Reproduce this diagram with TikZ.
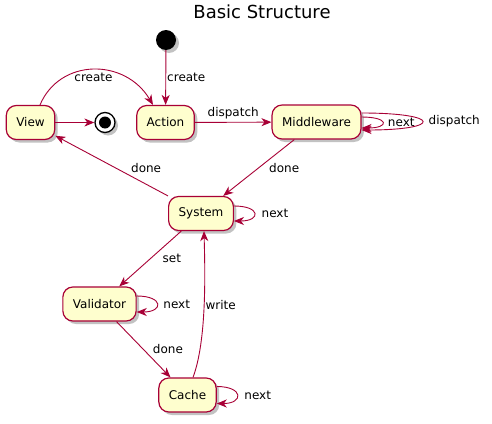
\documentclass[tikz,border=0pt]{standalone}
\usepackage{fontspec}
\setmainfont{DejaVu Sans}
\usetikzlibrary{arrows.meta, shadows}
\definecolor{umlred}{HTML}{A80036}
\definecolor{umlfill}{HTML}{FEFECE}
\definecolor{umlshadow}{HTML}{9A9A9A}

\begin{document}
\begin{tikzpicture}[x=1pt, y=-1pt,
  >={Stealth[length=10pt, width=8pt, inset=3pt]},
  umlshade/.style={drop shadow={shadow xshift=3pt, shadow yshift=-3pt,
    fill=umlshadow, opacity=.6}},
  statebox/.style={draw=umlred, fill=umlfill, line width=1.2pt,
    rounded corners=10pt, minimum height=34pt, inner xsep=10pt,
    font=\fontsize{12}{14}\selectfont, umlshade},
  edge/.style={->, draw=umlred, line width=0.9pt},
  lbl/.style={font=\fontsize{12}{14}\selectfont, text=black, inner sep=1pt}]

% Canvas
\useasboundingbox (0,0) rectangle (492,423);
\fill[white] (0,0) rectangle (492,423);

% Title
\node[font=\fontsize{18}{20}\selectfont] (title) at (262,12) {Basic Structure};

% ================================================================
% States
% ================================================================
\node[circle, fill=black, minimum size=20pt, inner sep=0pt, umlshade]
  (start) at (166,40) {};
\node[circle, draw=black, fill=white, line width=1.3pt, minimum size=20pt,
  inner sep=0pt, umlshade] (stop) at (105,122.5) {};
\fill[black] (stop.center) circle (6pt);

\node[statebox] (view)       at (30.5,122.5) {View};
\node[statebox] (action)     at (165.5,122.5) {Action};
\node[statebox] (middleware) at (316.5,122) {Middleware};
\node[statebox] (system)     at (201,213.5) {System};
\node[statebox] (validator)  at (99.5,304) {Validator};
\node[statebox] (cache)      at (187.5,395) {Cache};

% ================================================================
% Transitions
% ================================================================
\draw[edge] (start) -- node[lbl, right] {create} (action);
\draw[edge] ([xshift=9.5pt]view.north)
  .. controls (60,58) and (125,58) ..
  node[lbl, pos=.5, yshift=-8pt] {create} ([xshift=-12.5pt]action.north);
\draw[edge] (view) -- (stop);
\draw[edge] (action) -- node[lbl, above=2pt] {dispatch} (middleware);

% Middleware loops (next inside, dispatch outside)
\draw[edge] ([yshift=5pt]middleware.east)
  .. controls +(28,0) and +(28,0) ..
  node[lbl, right=4pt] {next} ([yshift=-6pt]middleware.east);
\draw[edge] ([yshift=9pt]middleware.east)
  .. controls +(81,0) and +(81,0) ..
  node[lbl, right=5pt] {dispatch} ([yshift=-8pt]middleware.east);

\draw[edge] (middleware) -- node[lbl, right=9pt] {done} (system);
\draw[edge] (system) -- node[lbl, right=18pt, yshift=-2pt] {done} (view);

\draw[edge] ([yshift=7.5pt]system.east)
  .. controls +(27,0) and +(27,0) ..
  node[lbl, right=6pt] {next} ([yshift=-7.5pt]system.east);

\draw[edge] (system) -- node[lbl, right=11pt] {set} (validator);

\draw[edge] ([yshift=8pt]validator.east)
  .. controls +(27,0) and +(27,0) ..
  node[lbl, right=5pt] {next} ([yshift=-8pt]validator.east);

\draw[edge] (validator) -- node[lbl, right=8pt] {done} (cache);

\draw[edge] ([xshift=5.5pt]cache.north)
  .. controls (207,340) and (205,270) ..
  node[lbl, right] {write} ([xshift=3pt]system.south);

\draw[edge] ([yshift=8.5pt]cache.east)
  .. controls +(27,0) and +(27,0) ..
  node[lbl, right=6pt] {next} ([yshift=-8.5pt]cache.east);

\end{tikzpicture}
\end{document}
